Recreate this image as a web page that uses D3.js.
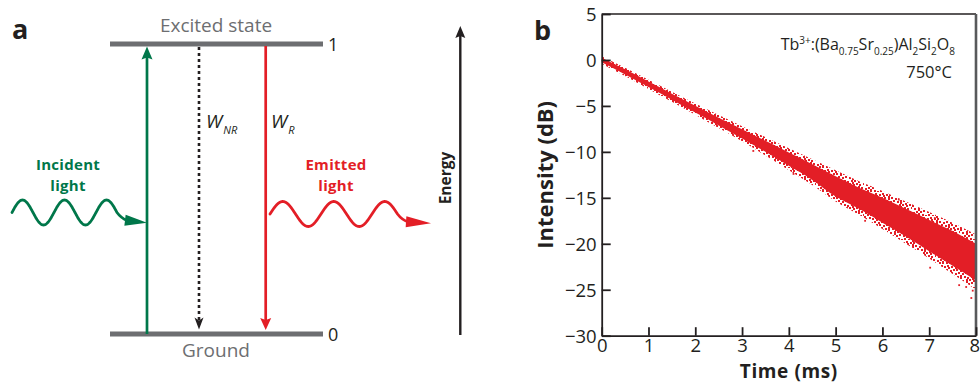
<!DOCTYPE html>
<html><head><meta charset="utf-8">
<script src="https://cdn.jsdelivr.net/npm/d3@7"></script>
<style>
body{margin:0;background:#fff}
svg{display:block}
text{font-family:"Open Sans","Noto Sans",sans-serif}
</style>
</head><body>
<svg id="fig" width="980" height="384"></svg>
<script>
// ---------- panel b: luminescence decay, Tb3+:(Ba0.75Sr0.25)Al2Si2O8, 750 °C ----------
const decayTime   = [0, 0.5, 1, 1.5, 2, 2.5, 3, 3.5, 4, 4.5, 5, 5.5, 6, 6.5, 7, 7.5, 8];
// dense part of the scatter (dB)
const coreUpper   = [0.25, -1.02, -2.35, -3.67, -4.97, -6.28, -7.55, -8.8, -10.08, -11.35, -12.65, -13.9, -15.0, -16.2, -17.4, -18.6, -20.0];
const coreLower   = [-0.25, -1.58, -2.95, -4.33, -5.73, -7.12, -8.55, -10.0, -11.52, -13.05, -14.85, -16.2, -17.7, -19.2, -20.8, -22.4, -24.0];
// sparse fringe of the scatter (dB)
const fringeUpper = [0.4, -0.85, -2.15, -3.45, -4.75, -6.0, -7.2, -8.4, -9.6, -10.8, -12.0, -13.2, -14.25, -15.4, -16.55, -17.7, -19.0];
const fringeLower = [-0.4, -1.75, -3.15, -4.55, -5.95, -7.4, -8.85, -10.4, -12.0, -13.6, -15.4, -16.85, -18.4, -20.0, -21.6, -23.3, -25.0];
// isolated points away from the band
const strayTime   = [3.24, 5.63, 7.02, 7.12, 7.64, 7.79, 7.9, 7.93, 6.35, 4.1];
const strayValue  = [-9.9, -17.5, -22.6, -17.2, -24.5, -24.7, -25.9, -25.1, -15.2, -12.4];
const timeTicks   = [0, 1, 2, 3, 4, 5, 6, 7, 8];
const dbTicks     = [5, 0, -5, -10, -15, -20, -25, -30];

// ---------- panel a: two-level scheme ----------
const levelValue  = [0, 1];
const levelName   = ["Ground", "Excited state"];

const RED = "#e31e26", GREEN = "#00774a", GREY = "#6d6e71", INK = "#231f20";
const svg = d3.select("#fig");

// ===== panel a =====
const ya = d3.scaleLinear().domain([0, 1]).range([334, 44]);
const lvlX0 = 110, lvlX1 = 323;

svg.append("text").attr("x", 12).attr("y", 39).attr("font-size", 27)
  .attr("font-weight", 700).attr("fill", INK).text("a");

levelValue.forEach((v, i) => {
  svg.append("line").attr("x1", lvlX0).attr("x2", lvlX1)
    .attr("y1", ya(v)).attr("y2", ya(v))
    .attr("stroke", GREY).attr("stroke-width", 5);
  svg.append("text").attr("x", 328).attr("y", ya(v) + 7)
    .attr("font-size", 18).attr("fill", INK).text(v);
  svg.append("text").attr("x", 216)
    .attr("y", v === 1 ? ya(v) - 12 : ya(v) + 23)
    .attr("text-anchor", "middle").attr("font-size", 19)
    .attr("fill", GREY).text(levelName[i]);
});

// arrowhead helper: tip point, direction (unit), length, half width, notch
function head(tx, ty, dx, dy, len, hw, notch, color) {
  const bx = tx - dx * len, by = ty - dy * len;
  const nx = -dy, ny = dx;
  const mx = tx - dx * (len - notch), my = ty - dy * (len - notch);
  svg.append("path")
    .attr("d", `M${tx},${ty}L${bx + nx * hw},${by + ny * hw}L${mx},${my}L${bx - nx * hw},${by - ny * hw}Z`)
    .attr("fill", color);
}

// absorption (up), non-radiative and radiative decay (down)
const xUp = 147, xNR = 199, xR = 265.7;
svg.append("line").attr("x1", xUp).attr("x2", xUp)
  .attr("y1", ya(0)).attr("y2", ya(1) + 12)
  .attr("stroke", GREEN).attr("stroke-width", 2.7);
head(xUp, ya(1) + 2.5, 0, -1, 13, 5.5, 2, GREEN);

svg.append("line").attr("x1", xNR).attr("x2", xNR)
  .attr("y1", ya(1) + 3).attr("y2", ya(0) - 12)
  .attr("stroke", INK).attr("stroke-width", 2.6).attr("stroke-dasharray", "3,3");
head(xNR, ya(0) - 4.5, 0, 1, 12, 4.5, 3, INK);

svg.append("line").attr("x1", xR).attr("x2", xR)
  .attr("y1", ya(1) + 2).attr("y2", ya(0) - 12)
  .attr("stroke", RED).attr("stroke-width", 2.7);
head(xR, ya(0) - 4, 0, 1, 12, 5.5, 2, RED);

// rate labels
const wnr = svg.append("text").attr("x", 206).attr("y", 128)
  .attr("font-size", 19).attr("font-style", "italic").attr("fill", INK);
wnr.append("tspan").text("W");
wnr.append("tspan").attr("font-size", 11).attr("dy", 6).attr("dx", 1).text("NR");
const wr = svg.append("text").attr("x", 271).attr("y", 128)
  .attr("font-size", 19).attr("font-style", "italic").attr("fill", INK);
wr.append("tspan").text("W");
wr.append("tspan").attr("font-size", 11).attr("dy", 6).attr("dx", 1).text("R");

// photon labels (two lines each)
[["Incident", "light", 68, GREEN], ["Emitted", "light", 336, RED]].forEach(([l1, l2, cx, c]) => {
  const t = svg.append("text").attr("y", 170).attr("text-anchor", "middle")
    .attr("font-size", 15).attr("letter-spacing", 0.3).attr("font-weight", 700).attr("fill", c);
  t.append("tspan").attr("x", cx).text(l1);
  t.append("tspan").attr("x", cx).attr("dy", 20.5).text(l2);
});

// wavy photon glyphs
function wave(x0, x1, yc, amp, period, tail, tip, color) {
  const pts = d3.range(x0, x1 + 0.01, 0.5).map(x => [x, yc - amp * Math.sin(2 * Math.PI * (x - x0) / period)]);
  const d = d3.line().curve(d3.curveLinear)(pts) + `Q${tail[0]},${tail[1]} ${tail[2]},${tail[3]}`;
  svg.append("path").attr("d", d).attr("fill", "none")
    .attr("stroke", color).attr("stroke-width", 2.8).attr("stroke-linecap", "round");
  const dx = tip[0] - tail[2], dy = tip[1] - tail[3], L = Math.hypot(dx, dy);
  head(tip[0], tip[1], dx / L, dy / L, L + 2, 5.5, 0, color);
}
wave(12, 117, 212.5, 12.5, 42, [121, 218, 127, 220.5], [147, 222.8], GREEN);
wave(270, 397.5, 214, 12.5, 51, [402, 220, 408, 221.8], [431, 223.3], RED);

// energy axis
svg.append("line").attr("x1", 460.3).attr("x2", 460.3).attr("y1", 335).attr("y2", 36)
  .attr("stroke", INK).attr("stroke-width", 2.4);
head(460.3, 26, 0, -1, 12, 5, 2, INK);
svg.append("text").attr("transform", "translate(451,178) rotate(-90)")
  .attr("text-anchor", "middle").attr("font-size", 15.5).attr("font-weight", 700)
  .attr("fill", INK).text("Energy");

// ===== panel b =====
const pb = {l: 601.7, r: 976, t: 14, b: 335.7};
const x = d3.scaleLinear().domain([0, 8]).range([pb.l, pb.r]);
const y = d3.scaleLinear().domain([-30, 5]).range([pb.b, pb.t]);

svg.append("text").attr("x", 534).attr("y", 40).attr("font-size", 27)
  .attr("font-weight", 700).attr("fill", INK).text("b");

const defs = svg.append("defs");
defs.append("clipPath").attr("id", "plotclip").append("rect")
  .attr("x", pb.l).attr("y", pb.t).attr("width", pb.r - pb.l).attr("height", pb.b - pb.t);
// speckle texture for the sparse edge of the scatter (low-discrepancy dot layout)
const TW = 24, TH = 24;
const pat = defs.append("pattern").attr("id", "speck").attr("patternUnits", "userSpaceOnUse")
  .attr("width", TW).attr("height", TH);
d3.range(60).forEach(k => pat.append("rect")
  .attr("x", Math.floor(((k * 0.7548777) % 1) * TW)).attr("y", Math.floor(((k * 0.5698403) % 1) * TH))
  .attr("width", 2).attr("height", 2).attr("fill", RED));

const band = svg.append("g").attr("clip-path", "url(#plotclip)");
const area = (hi, lo) => d3.area()
  .x((d, i) => x(decayTime[i])).y0((d, i) => y(lo[i]))
  .y1((d, i) => y(hi[i])).curve(d3.curveMonotoneX)(decayTime);
band.append("path").attr("d", area(fringeUpper, fringeLower)).attr("fill", "url(#speck)");
band.append("path").attr("d", area(coreUpper, coreLower)).attr("fill", RED);
band.selectAll("rect.stray").data(strayTime).join("rect").attr("class", "stray")
  .attr("x", (d) => x(d) - 0.9).attr("y", (d, i) => y(strayValue[i]) - 0.9)
  .attr("width", 1.8).attr("height", 1.8).attr("fill", RED);

// frame
svg.append("line").attr("x1", pb.l).attr("x2", pb.r).attr("y1", pb.t).attr("y2", pb.t)
  .attr("stroke", INK).attr("stroke-width", 1.5);
svg.append("line").attr("x1", pb.r).attr("x2", pb.r).attr("y1", pb.t).attr("y2", pb.b)
  .attr("stroke", "#58595b").attr("stroke-width", 2.6);

const ax = svg.append("g").attr("transform", `translate(0,${pb.b})`)
  .call(d3.axisBottom(x).tickValues(timeTicks).tickSize(-8.5).tickSizeOuter(0).tickPadding(3.5));
const ay = svg.append("g").attr("transform", `translate(${pb.l},0)`)
  .call(d3.axisLeft(y).tickValues(dbTicks).tickSize(-9).tickSizeOuter(0).tickPadding(5));
[ax, ay].forEach(g => {
  g.select(".domain").attr("stroke", INK).attr("stroke-width", 1.8);
  g.selectAll(".tick line").attr("stroke", INK).attr("stroke-width", 1.8);
  g.selectAll(".tick text").attr("fill", INK).attr("font-size", 18.5)
    .attr("font-family", '"Open Sans","Noto Sans",sans-serif');
});
ay.selectAll(".tick text").attr("dy", "0.36em");
// last time label sits against the right edge of the figure
ax.selectAll(".tick text").filter(d => d === 8).attr("dx", -1.8);

svg.append("text").attr("x", (pb.l + pb.r) / 2).attr("y", 378.4).attr("text-anchor", "middle")
  .attr("font-size", 19).attr("letter-spacing", 0.6).attr("font-weight", 700)
  .attr("fill", INK).text("Time (ms)");
svg.append("text").attr("transform", `translate(553,${(pb.t + pb.b) / 2}) rotate(-90)`)
  .attr("text-anchor", "middle").attr("font-size", 22).attr("font-weight", 700)
  .attr("fill", INK).text("Intensity (dB)");

// sample annotation
const an = svg.append("text").attr("x", 955).attr("y", 50).attr("text-anchor", "end")
  .attr("font-size", 16).attr("fill", INK);
const parts = [["Tb",0],["3+",-1],[":(Ba",0],["0.75",1],["Sr",0],["0.25",1],[")Al",0],["2",1],["Si",0],["2",1],["O",0],["8",1]];
let level = 0;
parts.forEach(([s, k]) => {
  const shift = k === -1 ? -6 : k === 1 ? 5 : 0;
  an.append("tspan").attr("dy", shift - level).attr("font-size", k ? 10 : 16).text(s);
  level = shift;
});
svg.append("text").attr("x", 952).attr("y", 78).attr("text-anchor", "end")
  .attr("font-size", 16.5).attr("fill", INK).text("750°C");
</script>
</body></html>
